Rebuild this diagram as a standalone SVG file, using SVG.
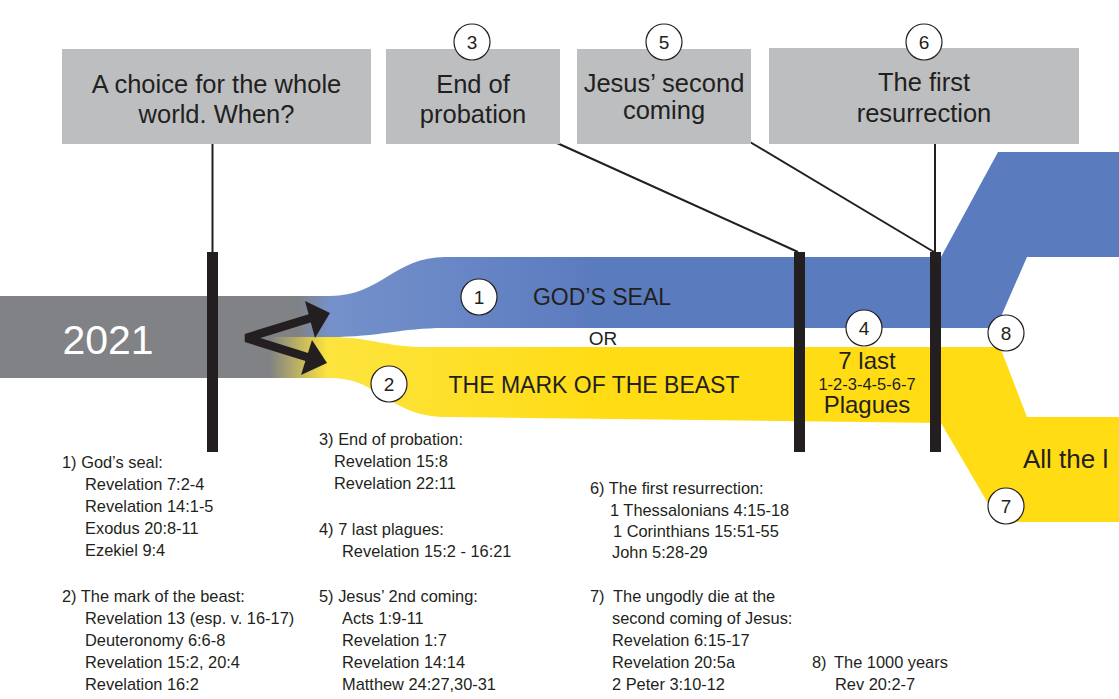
<svg xmlns="http://www.w3.org/2000/svg" width="1119" height="699" viewBox="0 0 1119 699">
<defs>
<style>
text{font-family:"Liberation Sans",Arial,sans-serif;fill:#231f20}
.box{fill:#bcbec0}
.bt{font-size:25.5px;text-anchor:middle}
.num{fill:#fff;stroke:#231f20;stroke-width:1.2}
.nt{font-size:19px;text-anchor:middle}
.bar{fill:#231f20}
.ref{font-size:16.4px}
.con{stroke:#231f20;stroke-width:2;fill:none}
</style>
<linearGradient id="gBlue" gradientUnits="userSpaceOnUse" x1="290" y1="0" x2="1119" y2="0">
<stop offset="0" stop-color="#808285"/>
<stop offset="0.01" stop-color="#808285"/>
<stop offset="0.048" stop-color="#7591cb"/>
<stop offset="0.37" stop-color="#5b7bbf"/>
<stop offset="1" stop-color="#5b7bbf"/>
</linearGradient>
<linearGradient id="gYel" gradientUnits="userSpaceOnUse" x1="270" y1="0" x2="1119" y2="0">
<stop offset="0" stop-color="#808285"/>
<stop offset="0.068" stop-color="#fde43e"/>
<stop offset="0.39" stop-color="#ffdc14"/>
<stop offset="1" stop-color="#ffdc14"/>
</linearGradient>
</defs>
<rect width="1119" height="699" fill="#fff"/>

<g id="timeline">
<rect x="0" y="296" width="300" height="82" fill="#808285"/>
<path id="blue-band" fill="url(#gBlue)" d="M290 296 L330 296 C380 296 395 257 445 257 L941 257 L998 152 L1119 152 L1119 257 L1027 257 L996 328 L445 328 C400 328 380 337 330 337 L290 337 Z"/>
<path id="yellow-band" fill="url(#gYel)" d="M270 337 L330 337 C370 337 385 347 425 347 L1000 347 L1027 417 L1119 417 L1119 522 L999 522 L941 423 L446 417 C390 417 380 378 330 378 L270 378 Z"/>
<text x="108" y="354" font-size="41" text-anchor="middle" style="fill:#fff">2021</text>
<text x="602" y="305" font-size="23" text-anchor="middle">GOD’S SEAL</text>
<text x="603" y="345" font-size="19" text-anchor="middle">OR</text>
<text x="594" y="393" font-size="23" text-anchor="middle">THE MARK OF THE BEAST</text>
<text x="867" y="369" font-size="24" text-anchor="middle">7 last</text>
<text x="867" y="390" font-size="16.5" text-anchor="middle">1-2-3-4-5-6-7</text>
<text x="867" y="413" font-size="24" text-anchor="middle">Plagues</text>
<text x="1023" y="468" font-size="26">All the l</text>
</g>

<g id="arrows">
<polyline points="314,317 246,338 310,358" fill="none" stroke="#231f20" stroke-width="8.5" stroke-linejoin="bevel"/>
<polygon points="305,301 330,313 315,338" fill="#231f20"/>
<polygon points="312,340 327,363 301,375" fill="#231f20"/>
</g>

<g id="bars">
<rect class="bar" x="207" y="252" width="11" height="200"/>
<rect class="bar" x="794" y="252" width="11" height="200"/>
<rect class="bar" x="930" y="252" width="11" height="200"/>
</g>

<g id="connectors">
<line class="con" x1="212.5" y1="144" x2="212.5" y2="252"/>
<line class="con" x1="557" y1="143" x2="798" y2="252"/>
<line class="con" x1="750" y1="142" x2="934" y2="252"/>
<line class="con" x1="935" y1="144" x2="935" y2="252"/>
</g>

<g id="box-choice">
<rect class="box" x="62" y="49" width="309" height="95"/>
<text class="bt" x="216.5" y="93">A choice for the whole</text>
<text class="bt" x="216.5" y="123">world. When?</text>
</g>
<g id="box-probation">
<rect class="box" x="386" y="49" width="174" height="95"/>
<text class="bt" x="473" y="93">End of</text>
<text class="bt" x="473" y="123">probation</text>
<circle class="num" cx="472" cy="42" r="18"/>
<text class="nt" x="472" y="49">3</text>
</g>
<g id="box-coming">
<rect class="box" x="577" y="49" width="174" height="95"/>
<text class="bt" x="664" y="92">Jesus’ second</text>
<text class="bt" x="664" y="119">coming</text>
<circle class="num" cx="664" cy="42" r="18"/>
<text class="nt" x="664" y="49">5</text>
</g>
<g id="box-resurrection">
<rect class="box" x="769" y="48" width="310" height="96"/>
<text class="bt" x="924" y="91">The first</text>
<text class="bt" x="924" y="122">resurrection</text>
<circle class="num" cx="924" cy="42" r="18"/>
<text class="nt" x="924" y="49">6</text>
</g>

<g id="markers">
<circle class="num" cx="479" cy="297" r="18"/><text class="nt" x="479" y="304">1</text>
<circle class="num" cx="389" cy="384" r="18"/><text class="nt" x="389" y="391">2</text>
<circle class="num" cx="864" cy="328" r="18"/><text class="nt" x="864" y="335">4</text>
<circle class="num" cx="1006" cy="333" r="18"/><text class="nt" x="1006" y="340">8</text>
<circle class="num" cx="1006" cy="506" r="18"/><text class="nt" x="1006" y="513">7</text>
</g>

<g id="references">
<text class="ref" x="62" y="468">1) God’s seal:</text>
<text class="ref" x="85" y="490">Revelation 7:2-4</text>
<text class="ref" x="85" y="512">Revelation 14:1-5</text>
<text class="ref" x="85" y="534">Exodus 20:8-11</text>
<text class="ref" x="85" y="556">Ezekiel 9:4</text>
<text class="ref" x="62" y="602">2) The mark of the beast:</text>
<text class="ref" x="85" y="624">Revelation 13 (esp. v. 16-17)</text>
<text class="ref" x="85" y="646">Deuteronomy 6:6-8</text>
<text class="ref" x="85" y="668">Revelation 15:2, 20:4</text>
<text class="ref" x="85" y="690">Revelation 16:2</text>

<text class="ref" x="319" y="445">3) End of probation:</text>
<text class="ref" x="334" y="467">Revelation 15:8</text>
<text class="ref" x="334" y="489">Revelation 22:11</text>
<text class="ref" x="319" y="535">4) 7 last plagues:</text>
<text class="ref" x="342" y="557">Revelation 15:2 - 16:21</text>
<text class="ref" x="319" y="602">5) Jesus’ 2nd coming:</text>
<text class="ref" x="342" y="624">Acts 1:9-11</text>
<text class="ref" x="342" y="646">Revelation 1:7</text>
<text class="ref" x="342" y="668">Revelation 14:14</text>
<text class="ref" x="342" y="690">Matthew 24:27,30-31</text>

<text class="ref" x="590" y="494">6) The first resurrection:</text>
<text class="ref" x="610" y="516">1 Thessalonians 4:15-18</text>
<text class="ref" x="613" y="537">1 Corinthians 15:51-55</text>
<text class="ref" x="612" y="558">John 5:28-29</text>
<text class="ref" x="590" y="602">7)<tspan x="613">The ungodly die at the</tspan></text>
<text class="ref" x="612" y="624">second coming of Jesus:</text>
<text class="ref" x="612" y="646">Revelation 6:15-17</text>
<text class="ref" x="612" y="668">Revelation 20:5a</text>
<text class="ref" x="612" y="690">2 Peter 3:10-12</text>
<text class="ref" x="812" y="668">8)<tspan x="834">The 1000 years</tspan></text>
<text class="ref" x="835" y="690">Rev 20:2-7</text>
</g>
</svg>
